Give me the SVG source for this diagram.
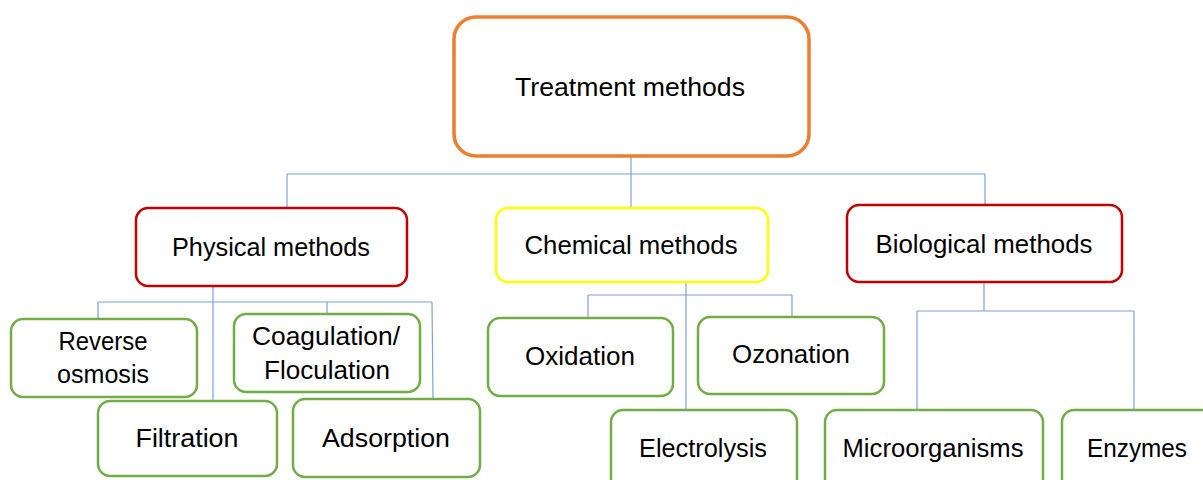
<svg xmlns="http://www.w3.org/2000/svg" width="1203" height="480" viewBox="0 0 1203 480">
<style>
.box{fill:#fff;}
.top{stroke:#ED7D31;stroke-width:3.5;}
.red{stroke:#C00000;stroke-width:2.5;}
.yel{stroke:#FFFF00;stroke-width:2.5;}
.grn{stroke:#70AD47;stroke-width:2.5;}
.lbl{font-family:"Liberation Sans",Arial,sans-serif;font-size:25px;fill:#000;text-anchor:middle;}
.con{fill:none;stroke:#7F9FDC;stroke-width:1.2;}
</style>
<rect width="1203" height="480" fill="#fff"/>
<g id="connectors">
<path class="con" d="M631,156 V208 M287,174 H985 M287,174 V208 M985,174 V205"/>
<path class="con" d="M213,286 V400 M98,302 H432 M98,302 V319 M327,302 V314 M432,302 L433,399"/>
<path class="con" d="M686,282 V410 M588,295 H792 M588,295 V318 M792,295 V317"/>
<path class="con" d="M984,282 V311 M917,311 H1134 M917,311 V410 M1134,311 V410"/>
</g>
<g id="treatment">
<rect class="box top" x="454" y="17" width="355" height="139" rx="22"/>
<text class="lbl" x="630" y="96" textLength="230" lengthAdjust="spacingAndGlyphs">Treatment methods</text>
</g>
<g id="physical">
<rect class="box red" x="136" y="208" width="271" height="78" rx="12"/>
<text class="lbl" x="271" y="256" textLength="198" lengthAdjust="spacingAndGlyphs">Physical methods</text>
</g>
<g id="chemical">
<rect class="box yel" x="496" y="208" width="272" height="74" rx="12"/>
<text class="lbl" x="631" y="254" textLength="213" lengthAdjust="spacingAndGlyphs">Chemical methods</text>
</g>
<g id="biological">
<rect class="box red" x="847" y="205" width="275" height="77" rx="12"/>
<text class="lbl" x="984" y="253" textLength="217" lengthAdjust="spacingAndGlyphs">Biological methods</text>
</g>
<g id="reverse-osmosis">
<rect class="box grn" x="11" y="319" width="186" height="78" rx="12"/>
<text class="lbl" x="103" y="350" textLength="89" lengthAdjust="spacingAndGlyphs">Reverse</text>
<text class="lbl" x="103" y="383" textLength="92" lengthAdjust="spacingAndGlyphs">osmosis</text>
</g>
<g id="coagulation">
<rect class="box grn" x="234" y="314" width="186" height="78" rx="12"/>
<text class="lbl" x="326" y="345" textLength="148" lengthAdjust="spacingAndGlyphs">Coagulation/</text>
<text class="lbl" x="327" y="379" textLength="126" lengthAdjust="spacingAndGlyphs">Floculation</text>
</g>
<g id="filtration">
<rect class="box grn" x="98" y="401" width="179" height="75" rx="12"/>
<text class="lbl" x="187" y="447" textLength="103" lengthAdjust="spacingAndGlyphs">Filtration</text>
</g>
<g id="adsorption">
<rect class="box grn" x="293" y="399" width="187" height="78" rx="12"/>
<text class="lbl" x="386" y="447" textLength="128" lengthAdjust="spacingAndGlyphs">Adsorption</text>
</g>
<g id="oxidation">
<rect class="box grn" x="488" y="318" width="185" height="78" rx="12"/>
<text class="lbl" x="580" y="365" textLength="110" lengthAdjust="spacingAndGlyphs">Oxidation</text>
</g>
<g id="ozonation">
<rect class="box grn" x="698" y="317" width="186" height="77" rx="12"/>
<text class="lbl" x="791" y="363" textLength="118" lengthAdjust="spacingAndGlyphs">Ozonation</text>
</g>
<g id="electrolysis">
<rect class="box grn" x="611" y="410" width="186" height="90" rx="12"/>
<text class="lbl" x="703" y="457" textLength="128" lengthAdjust="spacingAndGlyphs">Electrolysis</text>
</g>
<g id="microorganisms">
<rect class="box grn" x="825" y="410" width="218" height="90" rx="12"/>
<text class="lbl" x="933" y="457" textLength="181" lengthAdjust="spacingAndGlyphs">Microorganisms</text>
</g>
<g id="enzymes">
<rect class="box grn" x="1062" y="410" width="160" height="90" rx="12"/>
<text class="lbl" x="1137" y="457" textLength="100" lengthAdjust="spacingAndGlyphs">Enzymes</text>
</g>
</svg>
